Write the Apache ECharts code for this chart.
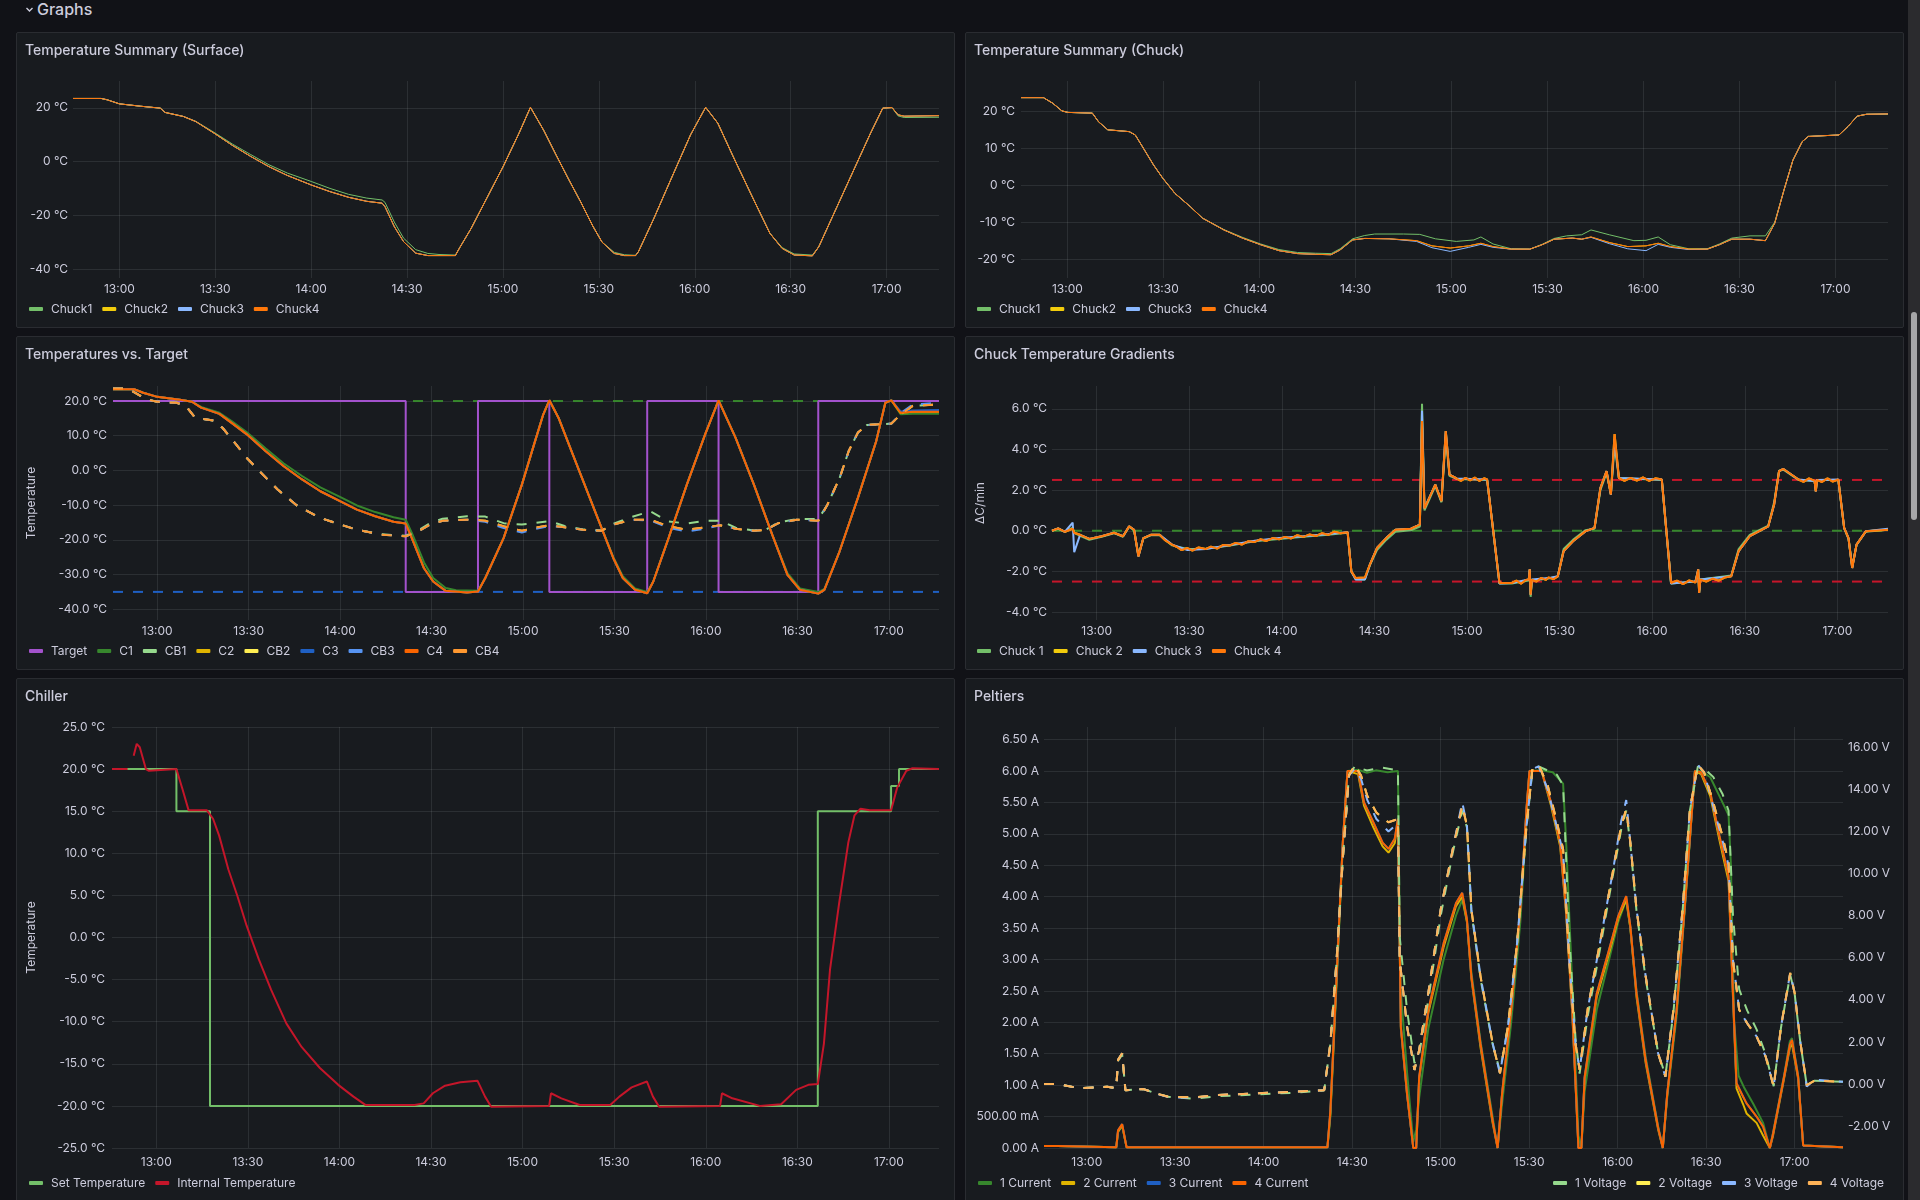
<!DOCTYPE html>
<html>
<head>
<meta charset="utf-8">
<title>Graphs</title>
<script src="https://cdn.jsdelivr.net/npm/echarts@6/dist/echarts.min.js"></script>
<style>
html, body { margin: 0; padding: 0; width: 1920px; height: 1200px; overflow: hidden; background: #111217;
  font-family: Inter, "Noto Sans", sans-serif; color: #ccccdc; }
.row-title { position: absolute; left: 25px; top: -1px; font-size: 16px; font-weight: 500; line-height: 20px; }
.row-title svg { vertical-align: middle; margin-right: 3px; margin-top: -2px; }
.panel { position: absolute; background: #181b1f; border: 1px solid #2a2c31; border-radius: 2px; box-sizing: border-box; overflow: hidden; }
.panel .title { position: absolute; left: 8px; top: 8px; font-size: 14px; font-weight: 500; line-height: 18px; z-index: 2; }
.panel .chart { position: absolute; left: 0; top: 0; right: 0; bottom: 0; }
.track { position: absolute; left: 1908px; top: 0; width: 12px; height: 1200px; background: #2b2b2e; }
.thumb { position: absolute; left: 1911px; top: 312px; width: 6px; height: 208px; border-radius: 3px; background: #a6a6a8; }
</style>
</head>
<body>
<div class="row-title"><svg width="9" height="9" viewBox="0 0 9 9"><polyline points="1.5,3 4.5,6 7.5,3" fill="none" stroke="#ccccdc" stroke-width="1.4"/></svg>Graphs</div>

<div class="panel" style="left:16px;top:32px;width:939px;height:296px;"><div class="title">Temperature Summary (Surface)</div><div class="chart" id="p1"></div></div>
<div class="panel" style="left:965px;top:32px;width:939px;height:296px;"><div class="title">Temperature Summary (Chuck)</div><div class="chart" id="p2"></div></div>
<div class="panel" style="left:16px;top:336px;width:939px;height:334px;"><div class="title">Temperatures vs. Target</div><div class="chart" id="p3"></div></div>
<div class="panel" style="left:965px;top:336px;width:939px;height:334px;"><div class="title">Chuck Temperature Gradients</div><div class="chart" id="p4"></div></div>
<div class="panel" style="left:16px;top:678px;width:939px;height:540px;"><div class="title">Chiller</div><div class="chart" id="p5"></div></div>
<div class="panel" style="left:965px;top:678px;width:939px;height:540px;"><div class="title">Peltiers</div><div class="chart" id="p6"></div></div>
<div class="track"></div><div class="thumb"></div>

<script>
// x values are minutes after 12:00
var T_MIN = 45.5, T_MAX = 316.4;

// ---- Temperature Summary (Surface) ----
var surfChuck1 = [[45.5,23.5],[54.3,23.5],[56.2,23.0],[60,21.5],[66.7,20.6],[72.8,19.9],[74.3,18.3],[80,16.8],[83.9,15.0],[89.6,10.9],[95.4,6.5],[101.1,2.6],[106.8,-1.2],[112.6,-4.3],[120,-7.4],[125.9,-10.0],[131.7,-12.2],[137.4,-13.6],[142.2,-14.3],[143.1,-15.2],[146,-22.5],[148.9,-28.5],[152.7,-32.8],[156.5,-34.2],[160,-34.6],[165.1,-34.8],[166.5,-32],[170,-25],[175,-13.5],[180,-2],[185,10.5],[188.6,20.2],[192.8,11.5],[196.6,2.5],[200.5,-6.5],[204.3,-15],[208.1,-24],[211,-30],[214.8,-33.8],[218,-34.7],[221.5,-34.9],[222.4,-33.5],[227.2,-21.2],[231,-10.8],[234.8,-0.5],[238.7,10],[243.4,20.2],[247.2,14.3],[252,1.9],[257.7,-12.4],[263.5,-26.7],[267.3,-32],[271.1,-34.4],[276.8,-34.8],[278.8,-31.7],[284.5,-16.8],[290.2,-1.9],[295,10.6],[298.8,19.9],[301.7,20.1],[303.6,17.0],[305.5,16.4],[316.4,16.5]];
var surfChuck4 = [[45.5,23.5],[54.3,23.5],[56.2,23.0],[60,21.5],[66.7,20.6],[72.8,19.9],[74.3,18.3],[80,16.8],[83.9,14.9],[89.6,10.6],[95.4,6.0],[101.1,1.9],[106.8,-1.9],[112.6,-5.2],[120,-8.7],[125.9,-11.2],[131.7,-13.3],[137.4,-14.8],[142.2,-15.5],[143.1,-16.8],[146,-24.2],[148.9,-29.8],[152.7,-34.1],[156.5,-35.0],[165.1,-35.0],[166.5,-32],[170,-25],[175,-13.5],[180,-2],[185,10.5],[188.6,20.2],[192.8,11.5],[196.6,2.5],[200.5,-6.5],[204.3,-15],[208.1,-24],[211,-30],[214.8,-34.2],[218,-35],[221.5,-35],[222.4,-33.5],[227.2,-21.2],[231,-10.8],[234.8,-0.5],[238.7,10],[243.4,20.2],[247.2,14.3],[252,1.9],[257.7,-12.4],[263.5,-26.7],[267.3,-32.3],[271.1,-34.8],[276.8,-35.1],[278.8,-31.7],[284.5,-16.8],[290.2,-1.9],[295,10.6],[298.8,19.9],[301.7,20.1],[303.6,17.4],[305.5,16.9],[316.4,17.1]];
// traces 2 and 3 lie under trace 4 in the picture
var surfChuck2 = surfChuck4, surfChuck3 = surfChuck4;

// ---- Temperature Summary (Chuck) ----
var chuckT1 = [[45.5,23.7],[52.5,23.7],[55.4,22.2],[58.3,20.1],[60.2,19.7],[67.8,19.5],[69.7,17.2],[72.6,15.0],[79.3,14.5],[81.2,13.6],[84.1,9.5],[86.9,5.5],[89.8,1.9],[93.6,-2.2],[98.4,-5.8],[102.2,-8.9],[108.9,-12.0],[114.7,-14.1],[120.4,-15.9],[126.1,-17.4],[131.9,-18.2],[137.6,-18.4],[142.4,-18.5],[145.2,-17.2],[149.1,-14.5],[152.9,-13.6],[156,-13.2],[165,-13.2],[170.1,-13.3],[175,-14.5],[181.5,-15.2],[187,-14.8],[189.2,-14.0],[193,-15.9],[198.7,-17.2],[204.5,-17.3],[208.3,-16.0],[212.1,-14.4],[216,-13.7],[220.7,-13.4],[223.6,-12.1],[229.3,-13.4],[237,-15.0],[240.8,-14.9],[244.6,-14.0],[248.4,-16.1],[254.2,-17.2],[259.9,-17.2],[263.7,-15.9],[267.6,-14.3],[273.3,-13.7],[278.1,-13.7],[281,-10.0],[283.9,-1.3],[286.7,6.8],[289.6,11.8],[291.5,13.2],[301.1,13.6],[303.9,15.9],[306.8,18.7],[309.7,19.2],[316.4,19.2]];
var chuckT3 = [[45.5,23.7],[52.5,23.7],[55.4,22.2],[58.3,20.1],[60.2,19.7],[67.8,19.5],[69.7,17.2],[72.6,15.0],[79.3,14.5],[81.2,13.6],[84.1,9.5],[86.9,5.5],[89.8,1.9],[93.6,-2.2],[98.4,-5.8],[102.2,-8.9],[108.9,-12.1],[114.7,-14.3],[120.4,-16.1],[126.1,-17.7],[131.9,-18.5],[137.6,-18.7],[142.4,-18.8],[145.2,-17.5],[149.1,-14.8],[152.9,-14.4],[160.5,-14.5],[169.1,-15.2],[173.9,-16.9],[179.6,-17.9],[185.4,-16.8],[189.2,-16.0],[193,-16.8],[198.7,-17.3],[204.5,-17.3],[208.3,-16.1],[212.1,-14.6],[217.8,-14.3],[220.7,-14.6],[223.6,-14.1],[229.3,-15.8],[235.1,-17.2],[240.8,-17.7],[244.6,-16.0],[248.4,-16.8],[254.2,-17.4],[259.9,-17.3],[263.7,-16.1],[267.6,-14.6],[273.3,-14.6],[278.1,-15.0],[281,-10.3],[283.9,-1.3],[286.7,6.8],[289.6,11.8],[291.5,13.2],[301.1,13.6],[303.9,15.9],[306.8,18.7],[309.7,19.2],[316.4,19.3]];
var chuckT4 = [[45.5,23.7],[52.5,23.7],[55.4,22.2],[58.3,20.1],[60.2,19.7],[67.8,19.5],[69.7,17.2],[72.6,15.0],[79.3,14.5],[81.2,13.6],[84.1,9.5],[86.9,5.5],[89.8,1.9],[93.6,-2.2],[98.4,-5.8],[102.2,-8.9],[108.9,-12.1],[114.7,-14.3],[120.4,-16.1],[126.1,-17.7],[131.9,-18.5],[137.6,-18.7],[142.4,-18.8],[145.2,-17.5],[149.1,-14.8],[152.9,-14.4],[160.5,-14.5],[169.1,-15.0],[173.9,-16.4],[179.6,-17.0],[185.4,-16.4],[189.2,-15.7],[193,-16.6],[198.7,-17.3],[204.5,-17.3],[208.3,-16.1],[212.1,-14.6],[217.8,-14.3],[220.7,-14.6],[223.6,-14.0],[229.3,-15.5],[235.1,-16.6],[240.8,-16.4],[244.6,-15.7],[248.4,-16.6],[254.2,-17.3],[259.9,-17.3],[263.7,-16.1],[267.6,-14.6],[273.3,-14.6],[278.1,-15.0],[281,-10.3],[283.9,-1.3],[286.7,6.8],[289.6,11.8],[291.5,13.2],[301.1,13.6],[303.9,15.9],[306.8,18.7],[309.7,19.2],[316.4,19.3]];
var chuckT2 = chuckT4;

// ---- Temperatures vs. Target ----
var target = [[45.5,20],[141.5,-35],[165.2,20],[188.6,-35],[220.7,20],[244.1,-35],[276.8,20],[316.4,20]];
var targetLimits = [20, -35];
var c1 = [[45.5,23.4],[52.4,23.4],[55.4,22.4],[60,21.2],[67.4,20.4],[71.4,19.8],[74.4,18.3],[80.4,16.6],[84.4,14.2],[89.4,11.0],[95.5,6.4],[101.5,2.0],[107.5,-1.6],[113.5,-4.9],[120.1,-7.7],[125.5,-10.1],[131.5,-12.0],[137.5,-13.5],[141.5,-14.2],[143.5,-18],[147.5,-26.5],[150.5,-31.0],[154.6,-33.9],[158,-34.5],[165.2,-34.7],[167.6,-31],[173.6,-19.5],[179.6,-4.1],[183.6,7.5],[186.6,16.1],[188.6,20.2],[191.6,15.2],[197.6,1.7],[203.6,-11.8],[209.6,-25.0],[212.7,-30.5],[216.7,-34.0],[220.7,-35.0],[222.7,-32.0],[227.7,-19.5],[233.7,-4.1],[239.7,10.4],[244.1,20.2],[249.7,9.4],[255.7,-4.1],[261.7,-18.5],[266.7,-29.6],[270.8,-34.0],[276.8,-35.0],[278.8,-34.2],[283.8,-23.3],[289.8,-7.9],[295.8,8.4],[298.8,19.5],[300.8,20.2],[303.8,16.2],[307.8,16.3],[316.4,16.3]];
var c3 = [[45.5,23.4],[52.4,23.4],[55.4,22.4],[60,21.2],[67.4,20.4],[71.4,19.8],[74.4,18.1],[80.4,16.3],[84.4,13.7],[89.4,10.4],[95.5,5.6],[101.5,1.2],[107.5,-2.6],[113.5,-6.0],[120.1,-8.9],[125.5,-11.3],[131.5,-13.2],[137.5,-14.8],[141.5,-15.3],[143.5,-19.5],[147.5,-28.2],[150.5,-32.0],[154.6,-34.7],[161.6,-35.2],[165.2,-34.9],[167.6,-31],[173.6,-19.5],[179.6,-4.1],[183.6,7.5],[186.6,16.1],[188.6,20.2],[191.6,15.2],[197.6,1.7],[203.6,-11.8],[209.6,-25.3],[212.7,-31.0],[216.7,-34.4],[220.7,-35.4],[222.7,-32.0],[227.7,-19.5],[233.7,-4.1],[239.7,10.4],[244.1,20.2],[249.7,9.4],[255.7,-4.1],[261.7,-18.5],[266.7,-30.1],[270.8,-34.4],[276.8,-35.5],[278.8,-34.4],[283.8,-23.3],[289.8,-7.9],[295.8,8.4],[298.8,19.5],[300.8,20.2],[303.8,17.0],[307.8,17.3],[316.4,17.4]];
var c4 = [[45.5,23.4],[52.4,23.4],[55.4,22.4],[60,21.2],[67.4,20.4],[71.4,19.8],[74.4,18.1],[80.4,16.3],[84.4,13.7],[89.4,10.4],[95.5,5.6],[101.5,1.2],[107.5,-2.6],[113.5,-6.0],[120.1,-8.9],[125.5,-11.3],[131.5,-13.2],[137.5,-14.8],[141.5,-15.3],[143.5,-19.5],[147.5,-28.2],[150.5,-32.0],[154.6,-34.7],[161.6,-35.2],[165.2,-34.9],[167.6,-31],[173.6,-19.5],[179.6,-4.1],[183.6,7.5],[186.6,16.1],[188.6,20.2],[191.6,15.2],[197.6,1.7],[203.6,-11.8],[209.6,-25.3],[212.7,-31.0],[216.7,-34.4],[220.7,-35.4],[222.7,-32.0],[227.7,-19.5],[233.7,-4.1],[239.7,10.4],[244.1,20.2],[249.7,9.4],[255.7,-4.1],[261.7,-18.5],[266.7,-30.1],[270.8,-34.4],[276.8,-35.5],[278.8,-34.4],[283.8,-23.3],[289.8,-7.9],[295.8,8.4],[298.8,19.5],[300.8,20.2],[303.8,16.6],[307.8,16.9],[316.4,16.9]];
var c2 = c4;
var cb1 = [[45.5,23.6],[50.4,23.6],[56.4,20.5],[60,19.8],[66.4,19.5],[69.4,18.6],[72.4,15.2],[78.4,14.4],[81.4,12.3],[85.4,8.0],[89.4,3.6],[93.5,-0.2],[99.5,-5.5],[105.5,-9.9],[113.5,-13.7],[120.1,-15.6],[125.5,-17.1],[133.5,-18.4],[141.5,-18.8],[145.5,-17.3],[149.5,-15.2],[153.6,-13.9],[161.6,-13.2],[167.6,-13.3],[173.6,-15.2],[179.6,-15.6],[183.6,-15.2],[188.6,-14.6],[193.6,-16.0],[199.6,-17.0],[205.6,-17.3],[209.6,-15.4],[215.7,-13.4],[221.7,-11.8],[227.7,-14.7],[233.7,-15.3],[239.7,-14.5],[244.7,-14.5],[249.7,-16.5],[255.7,-17.3],[259.7,-17.0],[263.7,-15.0],[269.7,-14.0],[276.8,-14.0],[279.8,-9.9],[283.8,-2.2],[286.8,5.6],[289.8,10.9],[292.8,13.1],[300.8,13.5],[303.8,16.1],[307.8,18.6],[316.4,19.0]];
var cb3 = [[45.5,23.6],[50.4,23.6],[56.4,20.5],[60,19.8],[66.4,19.5],[69.4,18.6],[72.4,15.2],[78.4,14.4],[81.4,12.3],[85.4,8.0],[89.4,3.6],[93.5,-0.2],[99.5,-5.5],[105.5,-9.9],[113.5,-13.7],[120.1,-15.6],[125.5,-17.1],[133.5,-18.5],[141.5,-19.0],[145.5,-17.6],[149.5,-15.6],[153.6,-14.5],[161.6,-14.2],[167.6,-14.8],[173.6,-16.6],[179.6,-17.9],[183.6,-16.9],[188.6,-16.0],[193.6,-16.4],[199.6,-17.1],[205.6,-17.4],[209.6,-15.6],[215.7,-14.2],[221.7,-14.4],[227.7,-16.5],[233.7,-17.6],[239.7,-16.8],[244.7,-15.8],[249.7,-16.8],[255.7,-17.4],[259.7,-17.1],[263.7,-15.2],[269.7,-14.2],[276.8,-14.5],[279.8,-9.9],[283.8,-2.2],[286.8,5.6],[289.8,10.9],[292.8,13.1],[300.8,13.5],[303.8,16.5],[307.8,19.0],[316.4,19.5]];
var cb4 = [[45.5,23.6],[50.4,23.6],[56.4,20.5],[60,19.8],[66.4,19.5],[69.4,18.6],[72.4,15.2],[78.4,14.4],[81.4,12.3],[85.4,8.0],[89.4,3.6],[93.5,-0.2],[99.5,-5.5],[105.5,-9.9],[113.5,-13.7],[120.1,-15.6],[125.5,-17.1],[133.5,-18.5],[141.5,-19.0],[145.5,-17.6],[149.5,-15.6],[153.6,-14.5],[161.6,-14.2],[167.6,-14.5],[173.6,-16.1],[179.6,-17.4],[183.6,-16.6],[188.6,-15.8],[193.6,-16.4],[199.6,-17.1],[205.6,-17.4],[209.6,-15.6],[215.7,-14.2],[221.7,-14.2],[227.7,-16.1],[233.7,-17.1],[239.7,-16.4],[244.7,-15.8],[249.7,-16.8],[255.7,-17.4],[259.7,-17.1],[263.7,-15.2],[269.7,-14.2],[276.8,-14.5],[279.8,-9.9],[283.8,-2.2],[286.8,5.6],[289.8,10.9],[292.8,13.1],[300.8,13.5],[303.8,16.1],[307.8,18.6],[316.4,19.0]];
var cb2 = cb4;

// ---- Chuck Temperature Gradients ----
var gradLimits = [2.5, -2.5];
var gradZero = [0];
var grad1 = [[45.5,0.0],[47.5,0.1],[49.7,-0.05],[52.2,0.15],[52.7,-0.1],[54.6,-0.25],[57.6,-0.45],[61.6,-0.3],[65.6,-0.12],[68.5,-0.3],[70.5,0.2],[72.1,0.02],[73.5,-1.2],[75.1,-0.38],[77.5,-0.22],[80.4,-0.22],[84.4,-0.72],[89.4,-0.9],[95.3,-0.88],[103.2,-0.72],[111.2,-0.52],[119.1,-0.4],[127,-0.3],[135,-0.2],[141.3,-0.1],[142.5,-2.0],[143.9,-2.38],[146.9,-2.4],[148.5,-1.7],[150.8,-0.95],[153.8,-0.45],[156.8,-0.05],[161.8,0.02],[164.7,0.2],[165.4,6.25],[166.2,1.0],[169.7,2.2],[171.7,1.4],[173.1,4.6],[174.3,2.7],[176.6,2.55],[186.5,2.5],[188.5,-0.05],[190.5,-2.6],[194.5,-2.6],[200.0,-2.45],[200.3,-1.95],[200.6,-3.25],[201.0,-2.45],[206.4,-2.35],[209.4,-2.25],[211.3,-0.9],[214.3,-0.45],[218.3,0.02],[221.3,0.1],[223.2,2.0],[225.2,2.85],[226.6,1.8],[227.8,4.2],[229.2,2.6],[243.1,2.5],[244.5,0.1],[246.1,-2.6],[254,-2.5],[254.9,-1.95],[255.2,-3.0],[255.6,-2.4],[265.6,-2.2],[268,-0.9],[271.6,-0.2],[277.6,0.25],[279.5,1.4],[281.1,2.95],[282.5,3.0],[287.4,2.5],[292.6,2.45],[293,2.0],[293.4,2.5],[300.3,2.5],[302.2,0.1],[303.6,-0.4],[304.8,-1.75],[306.2,-0.7],[309.2,-0.05],[316.4,0.05]];
var grad3 = [[45.5,0.0],[47.5,0.12],[49.7,-0.05],[52.2,0.4],[52.7,-1.05],[54.6,-0.2],[57.6,-0.4],[61.6,-0.27],[65.6,-0.1],[68.5,-0.27],[70.5,0.22],[72.1,0.05],[73.5,-1.26],[75.1,-0.36],[77.5,-0.2],[80.4,-0.2],[84.4,-0.68],[89.4,-0.95],[95.3,-0.9],[103.2,-0.7],[111.2,-0.49],[119.1,-0.36],[127,-0.27],[135,-0.16],[141.3,-0.07],[142.5,-2.0],[143.9,-2.4],[146.9,-2.4],[148.5,-1.67],[150.8,-0.85],[153.8,-0.36],[156.8,0.05],[161.8,0.1],[164.7,0.3],[165.4,5.9],[166.2,1.1],[169.7,2.27],[171.7,1.45],[173.1,4.9],[174.3,2.76],[176.6,2.57],[186.5,2.52],[188.5,-0.03],[190.5,-2.6],[194.5,-2.57],[200.0,-2.4],[200.3,-1.9],[200.6,-3.15],[201.0,-2.4],[206.4,-2.33],[209.4,-2.24],[211.3,-1.0],[214.3,-0.52],[218.3,-0.03],[221.3,0.14],[223.2,2.1],[225.2,2.93],[226.6,1.78],[227.8,4.5],[229.2,2.6],[243.1,2.52],[244.5,0.14],[246.1,-2.6],[254,-2.49],[254.9,-1.9],[255.2,-3.06],[255.6,-2.4],[265.6,-2.24],[268,-1.0],[271.6,-0.27],[277.6,0.22],[279.5,1.29],[281.1,2.93],[282.5,3.04],[287.4,2.52],[292.6,2.45],[293,1.94],[293.4,2.5],[300.3,2.52],[302.2,0.14],[303.6,-0.36],[304.8,-1.83],[306.2,-0.68],[309.2,-0.03],[316.4,0.1]];
var grad4 = [[45.5,0.0],[47.5,0.12],[49.7,-0.05],[52.2,0.1],[52.7,-0.1],[54.6,-0.2],[57.6,-0.4],[61.6,-0.27],[65.6,-0.1],[68.5,-0.27],[70.5,0.22],[72.1,0.05],[73.5,-1.26],[75.1,-0.36],[77.5,-0.2],[80.4,-0.2],[82,-0.45],[84.4,-0.68],[86,-0.8],[87.5,-0.95],[89.4,-0.85],[91,-0.98],[93,-0.82],[95.3,-0.9],[97,-0.78],[99,-0.88],[101,-0.7],[103.2,-0.72],[105,-0.6],[107,-0.68],[109,-0.52],[111.2,-0.55],[113,-0.42],[115,-0.5],[117,-0.36],[119.1,-0.42],[121,-0.3],[123,-0.38],[125,-0.22],[127,-0.3],[129,-0.18],[131,-0.26],[133,-0.12],[135,-0.2],[137,-0.05],[139,-0.12],[141.3,-0.07],[142.5,-2.0],[143.9,-2.33],[146.9,-2.3],[148.5,-1.67],[150.8,-0.85],[153.8,-0.36],[156.8,0.05],[161.8,0.1],[164.7,0.3],[165.4,5.4],[166.2,1.1],[169.7,2.27],[171.7,1.45],[173.1,4.9],[174.3,2.76],[176.6,2.57],[178,2.45],[179.5,2.6],[181,2.48],[182.5,2.62],[184,2.45],[185.5,2.58],[186.5,2.52],[188.5,-0.03],[190.5,-2.57],[194.5,-2.57],[196,-2.45],[197.5,-2.6],[199,-2.42],[200.0,-2.4],[200.3,-1.9],[200.6,-3.15],[201.0,-2.4],[202.5,-2.5],[204,-2.32],[205.5,-2.42],[206.4,-2.3],[208,-2.38],[209.4,-2.24],[211.3,-1.0],[214.3,-0.52],[218.3,-0.03],[221.3,0.14],[223.2,2.1],[225.2,2.93],[226.6,1.78],[227.8,4.75],[229.2,2.6],[231,2.45],[233,2.6],[235,2.47],[237,2.62],[239,2.45],[241,2.58],[243.1,2.52],[244.5,0.14],[246.1,-2.57],[248,-2.45],[250,-2.62],[252,-2.44],[254,-2.55],[254.9,-1.9],[255.2,-3.06],[255.6,-2.4],[257.5,-2.5],[259.5,-2.35],[261.5,-2.45],[263.5,-2.3],[265.6,-2.24],[268,-1.0],[271.6,-0.27],[277.6,0.22],[279.5,1.29],[281.1,2.93],[282.5,3.04],[287.4,2.52],[289,2.4],[290.8,2.58],[292.6,2.45],[293,1.94],[293.4,2.5],[295,2.4],[296.8,2.58],[298.5,2.42],[300.3,2.52],[302.2,0.14],[303.6,-0.36],[304.8,-1.83],[306.2,-0.68],[309.2,-0.03],[316.4,0.05]];
var grad2 = grad4;

// ---- Chiller ----
var setTemp = [[45.5,20],[66.6,15],[77.6,-20],[276.7,15],[300.7,18],[303.3,20],[316.4,20]];
var internalTemp = [[45.5,20],[50.6,20],[51.6,'-'],[52.6,21.6],[53.6,23.0],[54.6,22.6],[56.6,20.0],[57.6,19.8],[66.6,20],[68.6,17.6],[70.6,15.1],[76.6,15.1],[78.6,14.1],[80.6,12.1],[83.6,8.1],[86.6,4.9],[89.6,1.4],[93.6,-2.6],[97.6,-6.2],[102.6,-10.2],[107.6,-13.0],[113.6,-15.5],[119.6,-17.5],[124.6,-18.9],[128.6,-19.9],[144.6,-19.9],[147.6,-19.7],[150.6,-18.5],[154.6,-17.6],[159.6,-17.2],[165.2,-17.0],[167.7,-18.9],[169.7,-20.1],[188.7,-20.0],[189.3,-18.5],[192.7,-19.1],[198.7,-19.9],[208.7,-19.9],[211.7,-18.9],[215.7,-17.8],[220.7,-17.1],[222.7,-18.9],[224.7,-20.1],[244.7,-20.0],[245.3,-18.5],[248.7,-19.1],[257.7,-20.0],[264.7,-19.8],[269.6,-18.1],[273.6,-17.5],[276.7,-17.4],[278.7,-12.6],[280.7,-3.8],[283.7,4.1],[286.7,11.3],[288.7,14.5],[290.7,15.3],[293.7,15.1],[300.7,15.1],[302.7,17.8],[305.7,19.8],[307.7,20.1],[316.4,20.0]];

// ---- Peltiers (current in A, voltage in V) ----
var cur1 = [[45.5,0.03],[50,0.03],[50.1,0.01],[70,0.01],[70.6,0.25],[72,0.35],[73.5,0.01],[141.6,0.01],[142.6,0.5],[144.7,2.6],[146.8,4.8],[148.4,6.0],[152,6.02],[155,5.97],[158,6.01],[162,5.98],[165.5,6.0],[166.3,2.6],[168.6,1.2],[170.7,0.1],[171.7,0.3],[172.7,0.8],[175.8,1.9],[181,3.0],[185.2,3.7],[187.3,3.95],[188.9,3.6],[190.4,2.8],[193.5,1.7],[197.6,0.5],[199.3,0],[200.8,0.7],[203.9,2.0],[207,3.6],[209.1,5.2],[210.1,6.0],[214.2,6.01],[218,5.98],[221.5,5.8],[222.5,4.9],[224.6,2.6],[226.7,0.2],[227.7,0],[228.8,0.9],[232.9,2.2],[237.1,3.0],[240.2,3.6],[242.9,3.95],[244.3,3.5],[246.4,2.5],[249.5,1.45],[253.7,0.35],[255.3,0],[256.8,0.8],[260,2.1],[263.1,4.0],[266.2,6.0],[268.3,6.0],[271.4,5.9],[274.5,5.6],[277.6,5.3],[278.4,4.5],[279.5,2.0],[281,1.15],[283,0.95],[286,0.7],[289.3,0.4],[291.6,0],[292.7,0.25],[296.4,1.15],[298.4,1.7],[299.1,1.75],[301.2,1.15],[302.9,0.04],[303.3,0.01],[316.4,0.01]];
var cur2 = [[45.5,0.03],[50,0.03],[50.1,0.01],[70,0.01],[70.6,0.26],[72,0.36],[73.5,0.01],[141.6,0.01],[142.6,0.55],[144.7,2.7],[146.8,4.85],[148.4,6.0],[152,5.95],[154,5.45],[157.2,5.1],[160.3,4.8],[162.3,4.7],[164.4,4.85],[165.5,5.2],[166.5,1.9],[168.6,0.85],[170.7,0],[171.7,0],[172.7,1.1],[175.8,2.15],[181,3.2],[185.2,3.85],[187.3,4.0],[188.9,3.6],[190.4,2.7],[193.5,1.6],[197.6,0.4],[199.3,0],[200.8,0.85],[203.9,2.2],[207,3.8],[209.1,5.4],[210.1,6.0],[214.2,6.0],[217.4,5.45],[220.5,4.8],[222.5,3.75],[224.6,2.15],[226.7,0],[227.7,0],[228.8,1.1],[232.9,2.4],[237.1,3.1],[240.2,3.65],[242.9,3.95],[244.3,3.5],[246.4,2.4],[249.5,1.35],[253.7,0.3],[255.3,0],[256.8,0.85],[260,2.2],[263.1,4.05],[266.2,6.0],[268.3,5.95],[271.4,5.6],[274.5,4.9],[277.6,4.25],[279.1,2.4],[280.3,0.95],[282.5,0.7],[283.7,0.55],[287.1,0.4],[289.3,0.2],[291.6,0],[292.7,0.2],[296.4,1.1],[298.4,1.6],[299.1,1.65],[301.2,1.1],[302.9,0.04],[303.3,0.01],[316.4,0.01]];
var cur4 = [[45.5,0.03],[50,0.03],[50.1,0.01],[70,0.01],[70.6,0.28],[72,0.38],[73.5,0.01],[141.6,0.01],[142.6,0.6],[144.7,2.73],[146.8,4.86],[148.4,6.0],[152,6.0],[154,5.5],[157.2,5.18],[160.3,4.86],[162.3,4.76],[164.4,4.92],[165.5,5.24],[166.5,1.93],[168.6,0.86],[170.7,0],[171.7,0],[172.7,1.13],[175.8,2.2],[181,3.26],[185.2,3.9],[187.3,4.06],[188.9,3.64],[190.4,2.73],[193.5,1.66],[197.6,0.44],[199.3,0],[200.8,0.86],[203.9,2.2],[207,3.8],[209.1,5.4],[210.1,6.0],[214.2,6.0],[217.4,5.5],[220.5,4.86],[222.5,3.8],[224.6,2.2],[226.7,0],[227.7,0],[228.8,1.13],[232.9,2.46],[237.1,3.16],[240.2,3.69],[242.9,4.01],[244.3,3.53],[246.4,2.46],[249.5,1.4],[253.7,0.33],[255.3,0],[256.8,0.86],[260,2.2],[263.1,4.06],[266.2,6.0],[268.3,5.98],[271.4,5.66],[274.5,4.97],[277.6,4.33],[279.1,2.46],[280.3,1.03],[282.5,0.82],[283.7,0.71],[287.1,0.5],[289.3,0.34],[291.6,0],[292.7,0.23],[296.4,1.13],[298.4,1.65],[299.1,1.72],[301.2,1.13],[302.9,0.04],[303.3,0.01],[316.4,0.01]];
var cur3 = cur4;
var volt1 = [[45.5,0.0],[50.3,0.0],[57.5,-0.2],[66.9,-0.13],[70,-0.2],[70.6,1.1],[72,1.4],[73.1,-0.29],[79.3,-0.24],[83.5,-0.45],[87.6,-0.6],[95.9,-0.7],[104.2,-0.58],[116.7,-0.5],[129.1,-0.42],[140.5,-0.3],[142.6,1.9],[144.7,5.8],[146.8,10.6],[148.9,14.7],[150.9,15.1],[155,14.9],[160,15.05],[165.5,14.9],[166.1,7.0],[168.6,3.5],[171.1,1.0],[172.7,1.4],[175.8,4.0],[180,8.0],[184.1,11.0],[187.3,13.0],[188.9,12.2],[190.4,8.2],[193.5,5.0],[197.6,1.9],[200.1,0.6],[202.8,2.7],[205.9,6.6],[209.1,12.2],[211.1,14.9],[213.2,15.1],[216.3,14.9],[219.4,14.7],[221.5,14.2],[223.6,7.0],[225.7,2.2],[227.1,0.5],[229.8,3.2],[234,6.4],[238.1,9.7],[241.2,12.1],[242.9,13.0],[244.3,11.4],[246.4,8.2],[249.5,5.0],[253.7,1.5],[256.2,0.4],[258.9,3.4],[262,8.2],[264.5,13.0],[267.2,15.1],[269.3,15.0],[272.4,14.6],[275.5,13.8],[277.6,13.0],[279.1,8.0],[281.2,4.5],[283.9,3.5],[287.1,2.6],[290.2,1.4],[292.9,-0.1],[295.4,2.7],[298.5,5.2],[300,4.3],[302,1.9],[304.1,-0.05],[306.8,0.16],[316.4,0.11]];
var volt3 = [[45.5,0.0],[50.3,0.0],[57.5,-0.2],[66.9,-0.13],[70,-0.2],[70.6,1.15],[72,1.46],[73.1,-0.29],[79.3,-0.24],[83.5,-0.45],[87.6,-0.62],[95.9,-0.66],[104.2,-0.52],[116.7,-0.45],[129.1,-0.37],[140.5,-0.29],[142.6,1.94],[144.7,5.9],[146.8,10.7],[148.9,14.66],[150.9,15.0],[153,14.5],[155.1,13.5],[158.2,12.6],[162.3,12.0],[165.5,12.4],[166.1,5.9],[168.6,2.74],[171.1,0.67],[172.7,1.62],[175.8,4.33],[180,8.3],[184.1,11.17],[187.3,13.4],[188.9,12.28],[190.4,8.3],[193.5,5.12],[197.6,1.94],[200.1,0.51],[202.8,2.74],[205.9,6.71],[209.1,12.28],[211.1,14.98],[213.2,15.1],[216.3,14.0],[219.4,12.2],[221.5,11.0],[223.6,5.9],[225.7,1.94],[227.1,0.67],[229.8,3.53],[234,6.71],[238.1,9.89],[241.2,12.5],[242.9,13.5],[244.3,11.48],[246.4,8.3],[249.5,5.12],[253.7,1.46],[256.2,0.35],[258.9,3.53],[262,8.3],[264.5,13.07],[267.2,15.17],[269.3,14.82],[272.4,13.2],[275.5,11.6],[277.6,10.4],[279.1,5.9],[281.2,3.53],[283.9,2.89],[287.1,2.26],[290.2,1.3],[292.9,-0.13],[295.4,2.74],[298.5,5.28],[300,4.33],[302,1.94],[304.1,-0.12],[306.8,0.2],[316.4,0.11]];
var volt4 = [[45.5,0.0],[50.3,0.0],[57.5,-0.2],[66.9,-0.13],[70,-0.2],[70.6,1.15],[72,1.46],[73.1,-0.29],[79.3,-0.24],[83.5,-0.45],[87.6,-0.6],[95.9,-0.64],[104.2,-0.52],[116.7,-0.45],[129.1,-0.37],[140.5,-0.29],[142.6,1.94],[144.7,5.9],[146.8,10.7],[148.9,14.66],[150.9,15.17],[153,14.66],[155.1,13.7],[158.2,12.9],[162.3,12.44],[165.5,12.6],[166.1,5.9],[168.6,2.74],[171.1,0.67],[172.7,1.62],[175.8,4.33],[180,8.3],[184.1,11.17],[187.3,13.23],[188.9,12.28],[190.4,8.3],[193.5,5.12],[197.6,1.94],[200.1,0.51],[202.8,2.74],[205.9,6.71],[209.1,12.28],[211.1,14.98],[213.2,15.17],[216.3,14.19],[219.4,12.44],[221.5,11.17],[223.6,5.9],[225.7,1.94],[227.1,0.67],[229.8,3.53],[234,6.71],[238.1,9.89],[241.2,12.28],[242.9,13.07],[244.3,11.48],[246.4,8.3],[249.5,5.12],[253.7,1.46],[256.2,0.35],[258.9,3.53],[262,8.3],[264.5,13.07],[267.2,15.17],[269.3,14.82],[272.4,13.39],[275.5,11.8],[277.6,10.53],[279.1,5.9],[281.2,3.53],[283.9,2.89],[287.1,2.26],[290.2,1.3],[292.9,-0.13],[295.4,2.74],[298.5,5.28],[300,4.33],[302,1.94],[304.1,-0.05],[306.8,0.16],[316.4,0.11]];
var volt2 = volt4;

// ---- styling ----
var FONT = 'Inter, "Noto Sans", sans-serif';
var TXT = '#ccccdc';
var GRID = 'rgba(240,250,255,0.09)';

function hhmm(m) {
    var h = 12 + Math.floor(m / 60), mm = Math.round(m % 60);
    return h + ':' + (mm < 10 ? '0' : '') + mm;
}
function degInt(v) { return Math.round(v) + ' °C'; }
function deg1(v) { return v.toFixed(1) + ' °C'; }
function amps(v) {
    if (v === 0) return '0.00 A';
    return v < 1 ? (v * 1000).toFixed(2) + ' mA' : v.toFixed(2) + ' A';
}
function volts(v) { return v.toFixed(2) + ' V'; }

function timeAxis(margin) {
    return {
        type: 'value', min: T_MIN, max: T_MAX, minInterval: 30, maxInterval: 30,
        axisLine: { show: false }, axisTick: { show: false },
        axisLabel: { color: TXT, fontSize: 12, fontFamily: FONT, margin: margin,
            showMinLabel: false, showMaxLabel: false, formatter: hhmm },
        splitLine: { show: true, showMinLine: false, showMaxLine: false, lineStyle: { color: GRID, width: 1 } }
    };
}

function valueAxis(min, max, step, fmt, o) {
    o = o || {};
    var ax = {
        type: 'value', min: min, max: max, minInterval: step, maxInterval: step,
        position: o.position || 'left',
        axisLine: { show: false }, axisTick: { show: false },
        axisLabel: { color: TXT, fontSize: 12, fontFamily: FONT, margin: o.margin || 5,
            showMinLabel: !!o.minEdge, showMaxLabel: !!o.maxEdge, formatter: fmt },
        splitLine: { show: o.grid !== false, showMinLine: !!o.minEdge, showMaxLine: !!o.maxEdge,
            lineStyle: { color: GRID, width: 1 } }
    };
    if (o.name) {
        ax.name = o.name;
        ax.nameLocation = 'middle';
        ax.nameRotate = 90;
        ax.nameGap = o.nameGap;
        ax.nameTextStyle = { color: TXT, fontSize: 12, fontFamily: FONT };
    }
    return ax;
}

function line(name, data, color, width, dashed, opt) {
    opt = opt || {};
    return {
        name: name, type: 'line', data: data, color: color,
        yAxisIndex: opt.yAxis || 0, step: opt.step || false,
        showSymbol: false, symbol: 'none', connectNulls: false,
        lineStyle: { color: color, width: width, type: dashed ? [10, 10] : 'solid' },
        itemStyle: { color: color },
        emphasis: { disabled: true }, animation: false, z: 3
    };
}

function limitLine(value, color) {
    return {
        type: 'line', data: [[T_MIN, value], [T_MAX, value]], silent: true,
        showSymbol: false, symbol: 'none',
        lineStyle: { color: color, width: 2, type: [10, 10] },
        emphasis: { disabled: true }, animation: false, z: 2
    };
}

function legend(names, pos) {
    var l = {
        data: names, icon: 'roundRect', itemWidth: 14, itemHeight: 4, itemGap: 10, padding: 0,
        selectedMode: false,
        itemStyle: { borderWidth: 0 },
        textStyle: { color: TXT, fontSize: 12, fontFamily: FONT, padding: [0, 0, 0, 3] }
    };
    for (var k in pos) l[k] = pos[k];
    return l;
}

function draw(id, option) {
    var chart = echarts.init(document.getElementById(id));
    option.animation = false;
    chart.setOption(option);
}

var chuckColors = ['#73bf69', '#f2cc0c', '#8ab8ff', '#ff780a'];

// Temperature Summary (Surface)
draw('p1', {
    grid: { left: 56, right: 15, top: 48, height: 197 },
    xAxis: timeAxis(5),
    yAxis: valueAxis(-43.35, 30, 20, degInt),
    legend: legend(['Chuck1', 'Chuck2', 'Chuck3', 'Chuck4'], { left: 12, top: 270 }),
    series: [
        line('Chuck1', surfChuck1, chuckColors[0], 1),
        line('Chuck2', surfChuck2, chuckColors[1], 1),
        line('Chuck3', surfChuck3, chuckColors[2], 1),
        line('Chuck4', surfChuck4, chuckColors[3], 1)
    ]
});

// Temperature Summary (Chuck)
draw('p2', {
    grid: { left: 55, right: 15, top: 48, height: 197 },
    xAxis: timeAxis(5),
    yAxis: valueAxis(-25.1, 28.2, 10, degInt, { margin: 6 }),
    legend: legend(['Chuck1', 'Chuck2', 'Chuck3', 'Chuck4'], { left: 11, top: 270 }),
    series: [
        line('Chuck1', chuckT1, chuckColors[0], 1),
        line('Chuck2', chuckT2, chuckColors[1], 1),
        line('Chuck3', chuckT3, chuckColors[2], 1),
        line('Chuck4', chuckT4, chuckColors[3], 1)
    ]
});

// Temperatures vs. Target
draw('p3', {
    grid: { left: 95, right: 15, top: 49, height: 234 },
    xAxis: timeAxis(5),
    yAxis: valueAxis(-43.1, 24.33, 10, deg1, { margin: 6, name: 'Temperature', nameGap: 76 }),
    legend: legend(['Target', 'C1', 'CB1', 'C2', 'CB2', 'C3', 'CB3', 'C4', 'CB4'], { left: 12, top: 308 }),
    series: [
        limitLine(targetLimits[0], '#37872d'),
        limitLine(targetLimits[1], '#1f60c4'),
        line('Target', target, '#a352cc', 2, false, { step: 'end' }),
        line('C1', c1, '#37872d', 2),
        line('CB1', cb1, '#96d98d', 2, true),
        line('C2', c2, '#e0b400', 2),
        line('CB2', cb2, '#ffee52', 2, true),
        line('C3', c3, '#1f60c4', 2),
        line('CB3', cb3, '#5794f2', 2, true),
        line('C4', c4, '#fa6400', 2),
        line('CB4', cb4, '#ff9830', 2, true)
    ]
});

// Chuck Temperature Gradients
draw('p4', {
    grid: { left: 86, right: 15, top: 49, height: 234 },
    xAxis: timeAxis(5),
    yAxis: valueAxis(-4.39, 7.12, 2, deg1, { name: 'ΔC/min', nameGap: 66 }),
    legend: legend(['Chuck 1', 'Chuck 2', 'Chuck 3', 'Chuck 4'], { left: 11, top: 308 }),
    series: [
        limitLine(gradLimits[0], '#c4162a'),
        limitLine(gradLimits[1], '#c4162a'),
        limitLine(gradZero[0], '#37872d'),
        line('Chuck 1', grad1, chuckColors[0], 2),
        line('Chuck 2', grad2, chuckColors[1], 2),
        line('Chuck 3', grad3, chuckColors[2], 2),
        line('Chuck 4', grad4, chuckColors[3], 2)
    ]
});

// Chiller
draw('p5', {
    grid: { left: 93, right: 15, top: 48, height: 421 },
    xAxis: timeAxis(8),
    yAxis: valueAxis(-25, 25, 5, deg1, { margin: 7, minEdge: true, maxEdge: true, name: 'Temperature', nameGap: 75 }),
    legend: legend(['Set Temperature', 'Internal Temperature'], { left: 12, top: 498 }),
    series: [
        line('Set Temperature', setTemp, '#73bf69', 2, false, { step: 'end' }),
        line('Internal Temperature', internalTemp, '#c4162a', 2)
    ]
});

// Peltiers
draw('p6', {
    grid: { left: 78, right: 60, top: 48, height: 421 },
    xAxis: timeAxis(8),
    yAxis: [
        valueAxis(0, 6.7, 0.5, amps, { minEdge: true }),
        valueAxis(-3.04, 16.97, 2, volts, { position: 'right', grid: false })
    ],
    legend: [
        legend(['1 Current', '2 Current', '3 Current', '4 Current'], { left: 12, top: 498 }),
        legend(['1 Voltage', '2 Voltage', '3 Voltage', '4 Voltage'], { right: 19, top: 498 })
    ],
    series: [
        line('1 Current', cur1, '#37872d', 2),
        line('2 Current', cur2, '#e0b400', 2),
        line('3 Current', cur3, '#1f60c4', 2),
        line('4 Current', cur4, '#fa6400', 2),
        line('1 Voltage', volt1, '#96d98d', 2, true, { yAxis: 1 }),
        line('2 Voltage', volt2, '#ffee52', 2, true, { yAxis: 1 }),
        line('3 Voltage', volt3, '#8ab8ff', 2, true, { yAxis: 1 }),
        line('4 Voltage', volt4, '#ffb357', 2, true, { yAxis: 1 })
    ]
});
</script>
</body>
</html>
